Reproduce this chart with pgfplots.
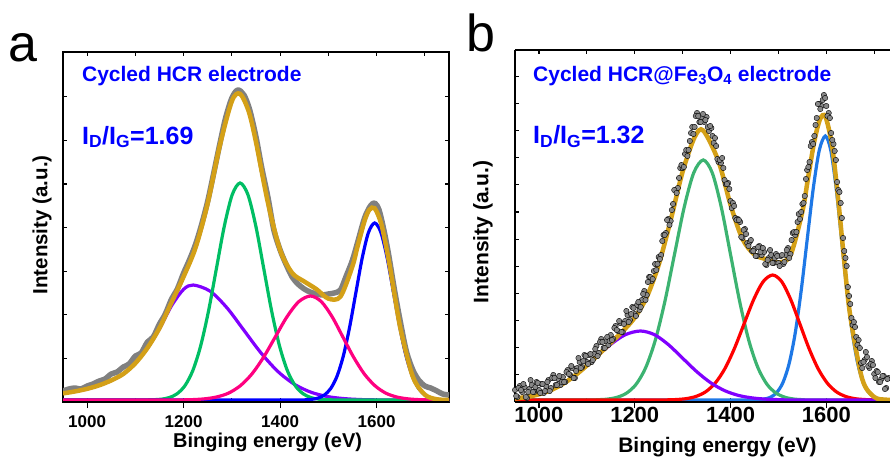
\documentclass[border=0pt]{standalone}
\usepackage{fontspec}
\setmainfont{Liberation Sans}
\usepackage{pgfplots}
\pgfplotsset{compat=1.18}
\definecolor{cgold}{RGB}{212,160,23}
\definecolor{cgray}{RGB}{128,128,128}
\definecolor{cdot}{RGB}{136,136,136}
\definecolor{cgreenA}{RGB}{0,190,100}
\definecolor{cpurple}{RGB}{128,0,255}
\definecolor{cpink}{RGB}{255,0,128}
\definecolor{cblueA}{RGB}{0,0,255}
\definecolor{cgreenB}{RGB}{60,179,113}
\definecolor{cred}{RGB}{255,0,0}
\definecolor{cblueB}{RGB}{30,120,230}
\definecolor{ctext}{RGB}{0,0,255}
\newcommand{\fs}[1]{\fontsize{#1}{#1}\selectfont}
\pgfplotsset{
  mainax/.style={anchor=south west, scale only axis, xmin=950, ymin=-2,
    axis line style={line width=1.6pt}, tick style={line width=1.2pt, black},
    tick align=inside, major tick length=4pt, minor tick length=4pt,
    xtick={1000,1100,...,1700}, xticklabels={}, yticklabels={}},
  botax/.style={anchor=south west, scale only axis, xmin=950, ymin=-2,
    hide y axis, axis x line*=bottom, axis line style={line width=1.6pt,-},
    tick style={line width=1.2pt, black}, tick align=outside, major tick length=6pt,
    xtick={1000,1200,1400,1600}, xticklabels={1000,1200,1400,1600}},
  comp/.style={line width=3.2pt, smooth},
  fit/.style={cgold, line width=4.5pt, smooth},
  dots/.style={only marks, mark=*, mark size=2.7pt, mark options={draw=none, fill=cdot}}
}
\begin{document}
\begin{tikzpicture}
\path[use as bounding box] (0pt,0pt) rectangle (890pt,459pt);
% ---------------- panel a ----------------
\begin{axis}[mainax, at={(63pt,57pt)}, width=386pt, height=350pt, xmax=1750, ymax=348,
  ytick={41.6,85.2,128.8,172.4,216,259.6,303.2},
  ylabel={\bfseries Intensity (a.u.)},
  ylabel style={font=\fs{20.5}, at={(axis description cs:-0.054,0.506)}, anchor=center}]
\addplot[cgray, line width=5.5pt, smooth, line join=round] coordinates {
(950,9)(962,11)(975,12)(987,11)(1000,14)(1012,16)(1025,19)(1037,21)(1050,26)(1062,28)(1075,33)(1087,36)(1100,44)(1112,47)(1125,58)(1137,63)(1150,76)(1162,86)(1175,101)(1187,111)(1200,127)(1212,140)(1225,156)(1237,175)(1250,199)(1262,226)(1275,256)(1287,282)(1300,302)(1312,310)(1325,305)(1337,290)(1350,263)(1362,232)(1375,202)(1387,170)(1400,150)(1412,136)(1425,123)(1437,116)(1450,111)(1462,108)(1475,106)(1487,105)(1500,106)(1512,107)(1525,110)(1537,124)(1550,140)(1562,160)(1575,182)(1587,194)(1596,197)(1605,190)(1615,170)(1625,145)(1637,110)(1650,76)(1662,48)(1675,30)(1687,20)(1700,14)(1712,12)(1725,9)(1737,6)(1750,5)};
\addplot[comp, cpurple] coordinates {
(950,6.6)(975,8.6)(1000,11.2)(1025,14.7)(1050,19.6)(1075,26.1)(1100,36.8)(1125,51.8)(1150,71.3)(1175,94.3)(1200,110.7)(1220,115)(1255,108.8)(1290,92.1)(1325,69.7)(1360,47.3)(1395,28.7)(1430,15.6)(1465,7.6)(1500,3.3)(1535,1.3)(1570,0.4)(1605,0.1)(1640,0)(1750,0)};
\addplot[comp, cgreenA] coordinates {
(950,0)(1100,0)(1121,0.1)(1137.3,0.3)(1153.7,0.8)(1170,2.4)(1186.3,6.2)(1202.7,14.3)(1219,29.4)(1235.3,54.1)(1251.7,89.2)(1268,131.6)(1284.3,173.8)(1300.7,205.3)(1317,217)(1333.3,205.3)(1349.7,173.8)(1366,131.6)(1382.3,89.2)(1398.7,54.1)(1415,29.4)(1431.3,14.3)(1447.7,6.2)(1464,2.4)(1480.3,0.8)(1496.7,0.3)(1513,0.1)(1530,0)(1750,0)};
\addplot[comp, cblueA] coordinates {
(950,0)(1430,0)(1453,0.2)(1466,0.7)(1479,2.0)(1492,5.1)(1505,11.6)(1518,23.9)(1531,44.1)(1544,72.8)(1557,107.4)(1570,141.7)(1583,167.4)(1596,177)(1609,167.4)(1622,141.7)(1635,107.4)(1648,72.8)(1661,44.1)(1674,23.9)(1687,11.6)(1700,5.1)(1713,2.0)(1726,0.7)(1739,0.2)(1750,0)};
\addplot[comp, cpink] coordinates {
(950,0)(1170,0)(1195.3,0.1)(1219.7,0.4)(1244,1.2)(1268.3,3.0)(1292.7,6.8)(1317,14.1)(1341.3,25.9)(1365.7,42.8)(1390,63.1)(1414.3,83.3)(1438.7,98.4)(1463,104)(1485.3,98.4)(1507.7,83.3)(1530,63.1)(1552.3,42.8)(1574.7,25.9)(1597,14.1)(1619.3,6.8)(1641.7,3.0)(1664,1.2)(1686.3,0.4)(1708.7,0.1)(1731,0)(1750,0)};
\addplot[fit] coordinates {
(950,6.6)(975,8.6)(1000,11.2)(1025,14.7)(1050,19.6)(1075,26.1)(1100,36.8)(1125,52.0)(1150,72.0)(1175,97.6)(1200,123.4)(1225,152.7)(1250,197.1)(1275,254.4)(1300,298.9)(1317,306.2)(1335,288.4)(1350,257.9)(1375,196.7)(1400,149.9)(1425,127.0)(1450,118.5)(1475,110.9)(1500,101.4)(1525,103.4)(1550,133.9)(1560,152.7)(1575,179.2)(1585,190.2)(1596,191.7)(1610,175.4)(1625,139.8)(1635,111.3)(1650,70.0)(1675,23.4)(1700,5.3)(1725,0.7)(1750,0.1)};
\node[anchor=base west, inner sep=0pt, text=ctext, font=\bfseries\fs{21}] at (rel axis cs:0.049,0.915) {Cycled HCR electrode};
\node[anchor=base west, inner sep=0pt, text=ctext, font=\bfseries\fs{25}] at (rel axis cs:0.049,0.737) {I\textsubscript{D}/I\textsubscript{G}=1.69};
\end{axis}
\begin{axis}[botax, at={(63pt,57pt)}, width=386pt, height=350pt, xmax=1750, ymax=348,
  xticklabel style={font=\bfseries\fs{17}, anchor=base, yshift=-19pt},
  xlabel={\bfseries Binging energy (eV)},
  xlabel style={font=\fs{20}, at={(axis description cs:0.53,0)}, anchor=base, yshift=-45.5pt}]
\end{axis}
% ---------------- panel b ----------------
\begin{axis}[mainax, at={(515pt,57pt)}, width=375pt, height=352pt, xmax=1733, ymax=350,
  axis x line*=box, axis y line*=left,
  ytick={52.3,106.6,160.9,215.2,269.5,323.8},
  minor ytick={25.15,79.45,133.75,188.05,242.35,296.65},
  ylabel={\bfseries Intensity (a.u.)},
  ylabel style={font=\fs{21}, at={(axis description cs:-0.0853,0.483)}, anchor=center}]
\addplot[dots] coordinates {
(950,10)(955,3)(960,14)(965,8)(970,13)(975,2)(980,11)(985,15)(990,8)(995,18)(1000,10)(1005,16)(1010,7)(1015,14)(1020,20)(1025,12)(1030,25)(1035,15)(1040,21)(1045,15)(1050,23)(1055,18)(1060,30)(1065,25)(1070,32)(1075,22)(1080,32)(1085,38)(1090,33)(1095,45)(1100,38)(1105,45)(1110,38)(1115,46)(1120,54)(1125,47)(1130,61)(1135,52)(1140,59)(1145,55)(1150,65)(1155,61)(1160,74)(1165,69)(1170,77)(1175,68)(1180,79)(1185,85)(1190,80)(1195,93)(1200,86)(1205,95)(1210,90)(1215,100)(1220,109)(1225,105)(1230,123)(1235,119)(1240,129)(1245,130)(1250,143)(1255,145)(1260,165)(1265,167)(1270,181)(1275,179)(1280,196)(1285,210)(1290,212)(1295,232)(1300,232)(1305,246)(1310,244)(1315,259)(1320,273)(1325,273)(1330,287)(1335,278)(1340,283)(1345,278)(1350,283)(1355,269)(1360,272)(1365,257)(1370,254)(1375,238)(1380,237)(1385,232)(1390,216)(1395,217)(1400,199)(1405,197)(1410,182)(1415,181)(1420,178)(1425,162)(1430,171)(1435,157)(1440,158)(1445,149)(1450,151)(1455,144)(1460,154)(1465,145)(1470,148)(1475,135)(1480,142)(1485,145)(1490,137)(1495,146)(1500,137)(1505,144)(1510,136)(1515,145)(1520,152)(1525,146)(1530,167)(1535,165)(1540,178)(1545,181)(1550,196)(1555,204)(1560,230)(1565,238)(1570,258)(1575,264)(1580,282)(1585,296)(1590,294)(1595,305)(1600,294)(1605,287)(1610,267)(1615,256)(1620,240)(1625,210)(1630,197)(1635,162)(1640,142)(1645,113)(1650,96)(1655,75)(1660,73)(1665,55)(1670,52)(1675,32)(1680,40)(1685,43)(1690,32)(1695,39)(1700,26)(1705,29)(1710,18)(1715,21)(1720,24)(1725,12)(1730,22)};
\addplot[dots] coordinates {
(952.5,4)(957.5,12)(962.5,10)(967.5,16)(972.5,3)(977.5,8)(982.5,20)(987.5,8)(992.5,13)(997.5,17)(1002.5,7)(1007.5,16)(1012.5,9)(1017.5,18)(1022.5,9)(1027.5,22)(1032.5,22)(1037.5,15)(1042.5,24)(1047.5,18)(1052.5,18)(1057.5,28)(1062.5,26)(1067.5,34)(1072.5,22)(1077.5,29)(1082.5,42)(1087.5,32)(1092.5,39)(1097.5,44)(1102.5,36)(1107.5,46)(1112.5,40)(1117.5,51)(1122.5,44)(1127.5,58)(1132.5,58)(1137.5,52)(1142.5,63)(1147.5,59)(1152.5,60)(1157.5,72)(1162.5,70)(1167.5,79)(1172.5,68)(1177.5,76)(1182.5,89)(1187.5,78)(1192.5,86)(1197.5,92)(1202.5,84)(1207.5,98)(1212.5,93)(1217.5,106)(1222.5,100)(1227.5,118)(1232.5,123)(1237.5,121)(1242.5,136)(1247.5,136)(1252.5,141)(1257.5,159)(1262.5,165)(1267.5,180)(1272.5,175)(1277.5,190)(1282.5,210)(1287.5,207)(1292.5,222)(1297.5,235)(1302.5,233)(1307.5,250)(1312.5,250)(1317.5,267)(1322.5,266)(1327.5,284)(1332.5,284)(1337.5,278)(1342.5,286)(1347.5,280)(1352.5,273)(1357.5,274)(1362.5,264)(1367.5,262)(1372.5,241)(1377.5,240)(1382.5,242)(1387.5,220)(1392.5,216)(1397.5,211)(1402.5,192)(1407.5,194)(1412.5,180)(1417.5,180)(1422.5,163)(1427.5,170)(1432.5,166)(1437.5,154)(1442.5,160)(1447.5,149)(1452.5,144)(1457.5,153)(1462.5,148)(1467.5,152)(1472.5,136)(1477.5,140)(1482.5,150)(1487.5,137)(1492.5,142)(1497.5,144)(1502.5,134)(1507.5,145)(1512.5,138)(1517.5,150)(1522.5,142)(1527.5,160)(1532.5,168)(1537.5,168)(1542.5,186)(1547.5,188)(1552.5,197)(1557.5,221)(1562.5,233)(1567.5,254)(1572.5,256)(1577.5,275)(1582.5,296)(1587.5,291)(1592.5,300)(1597.5,302)(1602.5,284)(1607.5,282)(1612.5,260)(1617.5,249)(1622.5,218)(1627.5,208)(1632.5,182)(1637.5,149)(1642.5,134)(1647.5,104)(1652.5,82)(1657.5,78)(1662.5,63)(1667.5,60)(1672.5,37)(1677.5,38)(1682.5,48)(1687.5,34)(1692.5,36)(1697.5,35)(1702.5,22)(1707.5,28)(1712.5,18)(1717.5,24)(1722.5,11)(1727.5,21)};
\addplot[comp, cblueB] coordinates {
(950,0)(1440,0)(1458.7,0.3)(1471.3,1.0)(1484,2.9)(1496.7,7.6)(1509.3,17.3)(1522,35.7)(1534.7,65.8)(1547.3,108.5)(1560,160.1)(1572.7,211.4)(1585.3,249.7)(1598,264)(1609.3,249.7)(1620.7,211.4)(1632,160.1)(1643.3,108.5)(1654.7,65.8)(1666,35.7)(1677.3,17.3)(1688.7,7.6)(1700,2.9)(1711.3,1.0)(1722.7,0.3)(1740,0)(1750,0)};
\addplot[comp, cgreenB] coordinates {
(950,0)(1100,0)(1123,0.3)(1143,0.9)(1163,2.7)(1183,6.9)(1203,15.8)(1223,32.5)(1243,59.9)(1263,98.7)(1283,145.6)(1303,192.2)(1323,227.0)(1343,240)(1362,227.0)(1381,192.2)(1400,145.6)(1419,98.7)(1438,59.9)(1457,32.5)(1476,15.8)(1495,6.9)(1514,2.7)(1533,0.9)(1552,0.3)(1575,0)(1750,0)};
\addplot[comp, cred] coordinates {
(950,0)(1250,0)(1268,0.15)(1288,0.5)(1308,1.4)(1328,3.6)(1348,8.2)(1368,16.9)(1388,31.2)(1408,51.4)(1428,75.8)(1448,100.1)(1468,118.3)(1488,125)(1507,118.3)(1526,100.1)(1545,75.8)(1564,51.4)(1583,31.2)(1602,16.9)(1621,8.2)(1640,3.6)(1659,1.4)(1678,0.5)(1697,0.15)(1720,0)(1750,0)};
\addplot[comp, cpurple] coordinates {
(950,1.6)(990.3,4.5)(1022,9.3)(1053.7,17.2)(1085.3,28.4)(1117,41.8)(1148.7,55.2)(1180.3,65.3)(1212,69)(1241.3,65.3)(1270.7,55.2)(1300,41.8)(1329.3,28.4)(1358.7,17.2)(1388,9.3)(1417.3,4.5)(1446.7,2.0)(1476,0.8)(1505.3,0.3)(1540,0)(1750,0)};
\addplot[fit] coordinates {
(950,1.5)(975,3.1)(1000,5.7)(1025,9.9)(1050,16.1)(1075,24.4)(1100,34.5)(1125,45.7)(1150,57.2)(1175,68.8)(1200,82.4)(1225,102.9)(1250,135.2)(1275,179.8)(1300,228.3)(1325,262.8)(1343,269.5)(1375,238.6)(1400,195.2)(1425,161.0)(1450,145.4)(1475,140.7)(1500,137.5)(1525,144.6)(1550,188.4)(1562,222.3)(1575,258.8)(1587,280.9)(1598,283.4)(1612,254.3)(1625,199.6)(1637,140.8)(1650,84.2)(1675,20.9)(1700,3.0)(1725,0.3)(1750,0.1)};
\node[anchor=base west, inner sep=0pt, text=ctext, font=\bfseries\fs{21}] at (rel axis cs:0.048,0.91) {Cycled HCR@Fe\textsubscript{3}O\textsubscript{4} electrode};
\node[anchor=base west, inner sep=0pt, text=ctext, font=\bfseries\fs{25}] at (rel axis cs:0.048,0.735) {I\textsubscript{D}/I\textsubscript{G}=1.32};
\end{axis}
\begin{axis}[botax, at={(515pt,57pt)}, width=375pt, height=352pt, xmax=1733, ymax=350,
  xticklabel style={font=\bfseries\fs{22}, anchor=base, yshift=-14pt},
  xlabel={\bfseries Binging energy (eV)},
  xlabel style={font=\fs{21}, at={(axis description cs:0.54,0)}, anchor=base, yshift=-50pt}]
\end{axis}
% panel letters
\node[anchor=base west, inner sep=0pt, font=\fs{52}] at (8pt,397.3pt) {a};
\node[anchor=base west, inner sep=0pt, font=\fs{52}] at (466pt,407.3pt) {b};
\end{tikzpicture}
\end{document}
